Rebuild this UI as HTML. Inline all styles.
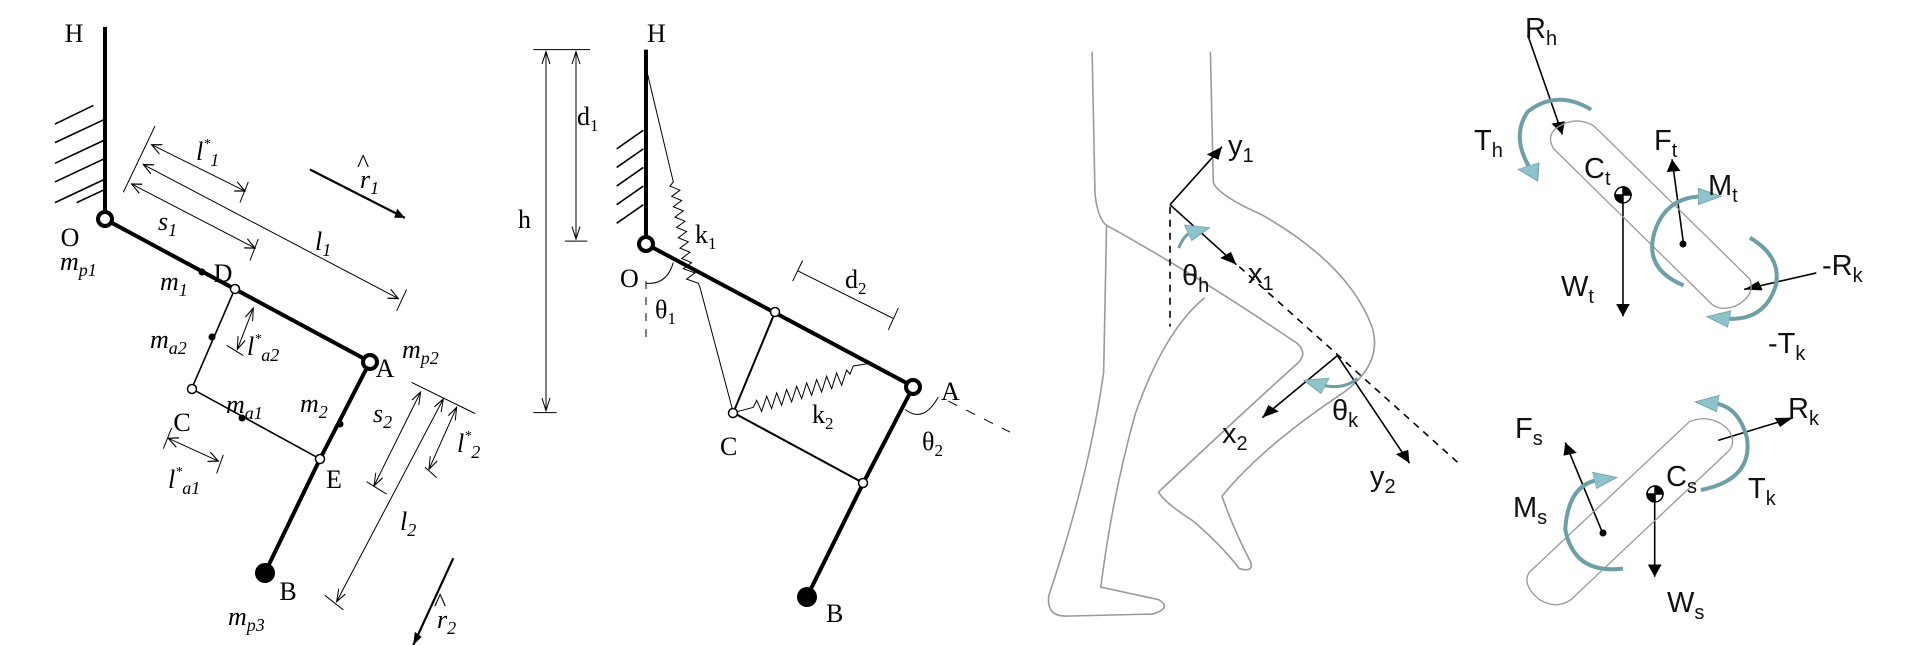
<!DOCTYPE html>
<html><head><meta charset="utf-8"><style>
html,body{margin:0;padding:0;background:#fff;}
svg{display:block}
.s{font-family:"Liberation Serif",serif;font-size:26px;fill:#000}
.i{font-style:italic}
.a{font-family:"Liberation Sans",sans-serif;font-size:29px;fill:#111}
</style></head><body>
<svg width="1920" height="645" viewBox="0 0 1920 645" xmlns="http://www.w3.org/2000/svg">
<defs>
<marker id="ar" markerUnits="userSpaceOnUse" markerWidth="40" markerHeight="40" refX="30" refY="15" orient="auto-start-reverse" viewBox="0 0 40 30"><path d="M0,3 L30,15 L0,27" fill="none" stroke="#000" stroke-width="3"/></marker>
<marker id="af" markerUnits="userSpaceOnUse" markerWidth="34" markerHeight="30" refX="30" refY="12" orient="auto" viewBox="0 0 34 24"><path d="M0,0 L30,12 L0,24 z" fill="#000"/></marker>
<marker id="ac" markerUnits="userSpaceOnUse" markerWidth="50" markerHeight="50" refX="10" refY="20" orient="auto" viewBox="0 0 50 40"><path d="M0,0 L40,20 L0,40 z" fill="#8fc3cb" stroke="#6fa0a8" stroke-width="2"/></marker>
</defs>

<!-- PANEL 1 -->
<g transform="scale(0.3333,0.4135)" fill="none" stroke="#000">
<line x1="315" y1="65" x2="315" y2="520" stroke-width="4" vector-effect="non-scaling-stroke"/>
<g stroke-width="1.6" vector-effect="non-scaling-stroke">
<line x1="165" y1="300" x2="280" y2="255" vector-effect="non-scaling-stroke"/>
<line x1="165" y1="345" x2="310" y2="290" vector-effect="non-scaling-stroke"/>
<line x1="165" y1="395" x2="310" y2="340" vector-effect="non-scaling-stroke"/>
<line x1="165" y1="440" x2="310" y2="385" vector-effect="non-scaling-stroke"/>
<line x1="165" y1="490" x2="310" y2="435" vector-effect="non-scaling-stroke"/>
<line x1="230" y1="490" x2="310" y2="460" vector-effect="non-scaling-stroke"/>
</g>
<polyline points="315,530 1110,875" stroke-width="4" vector-effect="non-scaling-stroke"/>
<polyline points="1110,875 960,1110 795,1385" stroke-width="4" vector-effect="non-scaling-stroke"/>
<polyline points="705,698 575,940 960,1110" stroke-width="1.6" vector-effect="non-scaling-stroke"/>
<g stroke-width="1" vector-effect="non-scaling-stroke">
<line x1="370" y1="465" x2="465" y2="305" vector-effect="non-scaling-stroke"/>
<line x1="455" y1="350" x2="735" y2="462" marker-start="url(#ar)" marker-end="url(#ar)" vector-effect="non-scaling-stroke"/>
<line x1="745" y1="440" x2="720" y2="490" vector-effect="non-scaling-stroke"/>
<line x1="430" y1="398" x2="1195" y2="722" marker-start="url(#ar)" marker-end="url(#ar)" vector-effect="non-scaling-stroke"/>
<line x1="1220" y1="700" x2="1190" y2="752" vector-effect="non-scaling-stroke"/>
<line x1="395" y1="445" x2="765" y2="600" marker-start="url(#ar)" marker-end="url(#ar)" vector-effect="non-scaling-stroke"/>
<line x1="775" y1="578" x2="750" y2="630" vector-effect="non-scaling-stroke"/>
<line x1="1235" y1="925" x2="1425" y2="1000" vector-effect="non-scaling-stroke"/>
<line x1="1262" y1="948" x2="1122" y2="1175" marker-start="url(#ar)" marker-end="url(#ar)" vector-effect="non-scaling-stroke"/>
<line x1="1100" y1="1165" x2="1160" y2="1195" vector-effect="non-scaling-stroke"/>
<line x1="1330" y1="965" x2="1010" y2="1455" marker-start="url(#ar)" marker-end="url(#ar)" vector-effect="non-scaling-stroke"/>
<line x1="975" y1="1440" x2="1030" y2="1475" vector-effect="non-scaling-stroke"/>
<line x1="1370" y1="985" x2="1287" y2="1135" marker-start="url(#ar)" marker-end="url(#ar)" vector-effect="non-scaling-stroke"/>
<line x1="1275" y1="1130" x2="1310" y2="1155" vector-effect="non-scaling-stroke"/>
<line x1="760" y1="745" x2="712" y2="845" marker-start="url(#ar)" marker-end="url(#ar)" vector-effect="non-scaling-stroke"/>
<line x1="680" y1="835" x2="730" y2="860" vector-effect="non-scaling-stroke"/>
<line x1="505" y1="1060" x2="655" y2="1115" marker-start="url(#ar)" marker-end="url(#ar)" vector-effect="non-scaling-stroke"/>
<line x1="490" y1="1085" x2="515" y2="1035" vector-effect="non-scaling-stroke"/>
<line x1="650" y1="1145" x2="670" y2="1100" vector-effect="non-scaling-stroke"/>
</g>
<line x1="930" y1="410" x2="1215" y2="527" stroke-width="2.2" marker-end="url(#af)" vector-effect="non-scaling-stroke"/>
<line x1="1360" y1="1350" x2="1240" y2="1560" stroke-width="2.2" marker-end="url(#af)" vector-effect="non-scaling-stroke"/>
</g>
<g fill="#fff" stroke="#000">
<circle cx="105" cy="219" r="7" stroke-width="4"/>
<circle cx="370" cy="362" r="7" stroke-width="4"/>
<circle cx="235" cy="289" r="4.5" stroke-width="1.5"/>
<circle cx="192" cy="389" r="4.5" stroke-width="1.5"/>
<circle cx="320" cy="459" r="4.5" stroke-width="1.5"/>
</g>
<g fill="#000"><circle cx="265" cy="573" r="10"/><circle cx="202" cy="272" r="3.5"/><circle cx="212" cy="337" r="3.5"/><circle cx="242" cy="418" r="3.5"/><circle cx="340" cy="424" r="3.5"/></g>
<g class="s" text-anchor="middle">
<text x="74" y="42">H</text>
<text x="70" y="246">O</text>
<text x="223" y="282">D</text>
<text x="385" y="377">A</text>
<text x="182" y="431">C</text>
<text x="334" y="488">E</text>
<text x="288" y="600">B</text>
</g>
<g class="s i">
<text x="60" y="270">m<tspan font-size="18" dy="6">p1</tspan></text>
<text x="160" y="290">m<tspan font-size="18" dy="6">1</tspan></text>
<text x="150" y="348">m<tspan font-size="18" dy="6">a2</tspan></text>
<text x="247" y="355">l<tspan font-size="14" dy="-12">*</tspan><tspan font-size="18" dy="18">a2</tspan></text>
<text x="402" y="358">m<tspan font-size="18" dy="6">p2</tspan></text>
<text x="226" y="413">m<tspan font-size="18" dy="6">a1</tspan></text>
<text x="300" y="412">m<tspan font-size="18" dy="6">2</tspan></text>
<text x="373" y="422">s<tspan font-size="18" dy="6">2</tspan></text>
<text x="168" y="488">l<tspan font-size="14" dy="-12">*</tspan><tspan font-size="18" dy="18">a1</tspan></text>
<text x="457" y="452">l<tspan font-size="14" dy="-12">*</tspan><tspan font-size="18" dy="18">2</tspan></text>
<text x="400" y="530">l<tspan font-size="18" dy="6">2</tspan></text>
<text x="228" y="625">m<tspan font-size="18" dy="6">p3</tspan></text>
<text x="196" y="160">l<tspan font-size="14" dy="-12">*</tspan><tspan font-size="18" dy="18">1</tspan></text>
<text x="158" y="230">s<tspan font-size="18" dy="6">1</tspan></text>
<text x="315" y="250">l<tspan font-size="18" dy="6">1</tspan></text>
<text x="360" y="188">r<tspan font-size="18" dy="6">1</tspan></text>
<text x="437" y="628">r<tspan font-size="18" dy="6">2</tspan></text>
</g>
<text x="357" y="172" class="s" font-size="20">^</text>
<text x="434" y="611" class="s" font-size="20">^</text>

<!-- PANEL 2 -->
<g transform="translate(500,0) scale(0.3333,0.4135)" fill="none" stroke="#000">
<line x1="438" y1="120" x2="438" y2="580" stroke-width="4" vector-effect="non-scaling-stroke"/>
<g stroke-width="1.6">
<line x1="350" y1="360" x2="430" y2="315" vector-effect="non-scaling-stroke"/>
<line x1="350" y1="405" x2="430" y2="360" vector-effect="non-scaling-stroke"/>
<line x1="350" y1="450" x2="430" y2="405" vector-effect="non-scaling-stroke"/>
<line x1="350" y1="495" x2="430" y2="450" vector-effect="non-scaling-stroke"/>
<line x1="350" y1="540" x2="430" y2="495" vector-effect="non-scaling-stroke"/>
</g>
<polyline points="438,590 1240,935" stroke-width="4" vector-effect="non-scaling-stroke"/>
<polyline points="1240,935 1090,1168 920,1445" stroke-width="4" vector-effect="non-scaling-stroke"/>
<polyline points="825,755 700,998 1090,1168" stroke-width="2" vector-effect="non-scaling-stroke"/>
<polyline points="440,170 520,440 510,450 540,460 515,475 545,485 520,500 550,510 525,525 555,535 530,550 560,560 535,575 565,585 540,600 570,610 545,625 575,635 550,650 585,660 560,675 595,685 600,695 700,998" stroke-width="1" vector-effect="non-scaling-stroke"/>
<polyline points="700,998 760,985 770,968 785,995 800,958 815,988 830,950 845,980 860,942 875,972 890,934 905,964 920,926 935,956 950,918 965,948 980,910 995,940 1010,902 1025,932 1040,895 1050,905 1060,885 1100,880" stroke-width="1" vector-effect="non-scaling-stroke"/>
<g stroke-width="1">
<line x1="100" y1="120" x2="270" y2="120" vector-effect="non-scaling-stroke"/>
<line x1="138" y1="125" x2="138" y2="993" marker-start="url(#ar)" marker-end="url(#ar)" vector-effect="non-scaling-stroke"/>
<line x1="100" y1="998" x2="170" y2="998" vector-effect="non-scaling-stroke"/>
<line x1="228" y1="125" x2="228" y2="578" marker-start="url(#ar)" marker-end="url(#ar)" vector-effect="non-scaling-stroke"/>
<line x1="195" y1="583" x2="262" y2="583" vector-effect="non-scaling-stroke"/>
<line x1="893" y1="655" x2="1180" y2="770" vector-effect="non-scaling-stroke"/>
<line x1="878" y1="680" x2="908" y2="630" vector-effect="non-scaling-stroke"/>
<line x1="1165" y1="798" x2="1195" y2="745" vector-effect="non-scaling-stroke"/>
<line x1="438" y1="680" x2="438" y2="830" stroke-dasharray="8 8" vector-effect="non-scaling-stroke"/>
<line x1="1345" y1="970" x2="1530" y2="1045" stroke-dasharray="10 10" vector-effect="non-scaling-stroke"/>
<path d="M438,685 Q500,690 520,635" vector-effect="non-scaling-stroke"/>
<path d="M1215,990 Q1270,1025 1315,960" vector-effect="non-scaling-stroke"/>
</g>
</g>
<g fill="#fff" stroke="#000">
<circle cx="646" cy="244" r="7" stroke-width="4"/>
<circle cx="913" cy="387" r="7" stroke-width="4"/>
<circle cx="775" cy="312" r="4.5" stroke-width="1.5"/>
<circle cx="733" cy="413" r="4.5" stroke-width="1.5"/>
<circle cx="863" cy="483" r="4.5" stroke-width="1.5"/>
</g>
<circle cx="807" cy="597" r="10" fill="#000"/>
<g class="s" font-size="24">
<text x="647" y="42">H</text>
<text x="518" y="228">h</text>
<text x="577" y="125">d<tspan font-size="17" dy="6">1</tspan></text>
<text x="695" y="243">k<tspan font-size="17" dy="6">1</tspan></text>
<text x="620" y="287">O</text>
<text x="655" y="318">θ<tspan font-size="17" dy="6">1</tspan></text>
<text x="845" y="288">d<tspan font-size="17" dy="6">2</tspan></text>
<text x="941" y="400">A</text>
<text x="922" y="450">θ<tspan font-size="17" dy="6">2</tspan></text>
<text x="812" y="423">k<tspan font-size="17" dy="6">2</tspan></text>
<text x="720" y="455">C</text>
<text x="826" y="622">B</text>
</g>

<!-- PANEL 3 -->
<g transform="translate(1020,0) scale(0.577,0.4135)" fill="none">
<g stroke="#9a9a9a" stroke-width="1.6">
<path d="M125,125 L130,470 Q135,530 150,545 L145,900 Q120,1150 50,1440 Q45,1490 80,1490 L230,1485 Q265,1470 240,1450 L140,1420 Q160,1200 200,1000 Q250,800 320,720" vector-effect="non-scaling-stroke"/>
<path d="M150,545 Q300,660 480,830 Q500,855 480,880 Q400,980 240,1190 Q250,1215 300,1260 Q350,1320 380,1375 Q405,1385 400,1360 Q370,1280 350,1200 Q420,1080 560,950 Q630,880 610,790 Q570,640 420,520 Q340,470 335,440 L330,125" vector-effect="non-scaling-stroke"/>
</g>
<g stroke="#000" stroke-width="1.6">
<line x1="260" y1="495" x2="350" y2="355" marker-end="url(#af)" vector-effect="non-scaling-stroke"/>
<line x1="260" y1="495" x2="375" y2="640" marker-end="url(#af)" vector-effect="non-scaling-stroke"/>
<line x1="260" y1="500" x2="260" y2="790" stroke-dasharray="7 6" vector-effect="non-scaling-stroke"/>
<line x1="380" y1="645" x2="760" y2="1120" stroke-dasharray="7 6" vector-effect="non-scaling-stroke"/>
<line x1="550" y1="860" x2="420" y2="1010" marker-end="url(#af)" vector-effect="non-scaling-stroke"/>
<line x1="550" y1="860" x2="675" y2="1120" marker-end="url(#af)" vector-effect="non-scaling-stroke"/>
<line x1="880" y1="85" x2="940" y2="325" marker-end="url(#af)" vector-effect="non-scaling-stroke"/>
<line x1="1045" y1="470" x2="1045" y2="765" marker-end="url(#af)" vector-effect="non-scaling-stroke"/>
<line x1="1150" y1="590" x2="1130" y2="385" marker-end="url(#af)" vector-effect="non-scaling-stroke"/>
<line x1="1380" y1="660" x2="1255" y2="700" marker-end="url(#af)" vector-effect="non-scaling-stroke"/>
<line x1="1210" y1="1065" x2="1340" y2="1010" marker-end="url(#af)" vector-effect="non-scaling-stroke"/>
<line x1="1010" y1="1290" x2="945" y2="1070" marker-end="url(#af)" vector-effect="non-scaling-stroke"/>
<line x1="1100" y1="1190" x2="1100" y2="1395" marker-end="url(#af)" vector-effect="non-scaling-stroke"/>
</g>
<g stroke="#999" stroke-width="1.3">
<path d="M935,305 Q965,280 995,305 L1265,675 Q1275,715 1240,740 Q1210,755 1195,730 L925,360 Q910,325 935,305 Z" vector-effect="non-scaling-stroke"/>
<path d="M1160,1020 Q1195,1000 1225,1035 Q1245,1070 1225,1095 L955,1450 Q930,1475 900,1450 Q870,1415 882,1385 Z" vector-effect="non-scaling-stroke"/>
</g>
<g stroke="#6f9fa6" stroke-width="4">
<path d="M990,265 Q930,215 880,270 Q850,330 885,410" marker-end="url(#ac)" vector-effect="non-scaling-stroke"/>
<path d="M1150,690 Q1080,650 1100,560 Q1120,475 1185,475" marker-end="url(#ac)" vector-effect="non-scaling-stroke"/>
<path d="M1265,575 Q1320,620 1310,690 Q1290,780 1220,770" marker-end="url(#ac)" vector-effect="non-scaling-stroke"/>
<path d="M1180,1185 Q1270,1160 1260,1060 Q1245,980 1200,975" marker-end="url(#ac)" vector-effect="non-scaling-stroke"/>
<path d="M1045,1375 Q960,1390 945,1280 Q950,1170 1005,1160" marker-end="url(#ac)" vector-effect="non-scaling-stroke"/>
<path d="M275,600 Q285,565 300,560" marker-end="url(#ac)" stroke-width="3" vector-effect="non-scaling-stroke"/>
<path d="M585,915 Q560,945 520,930" marker-end="url(#ac)" stroke-width="3" vector-effect="non-scaling-stroke"/>
</g>
</g>
<g stroke="#000" stroke-width="1.5">
<circle cx="1623" cy="195" r="8" fill="#fff"/><path d="M1623,187 A8,8 0 0 1 1631,195 L1623,195 Z M1623,203 A8,8 0 0 1 1615,195 L1623,195 Z" fill="#000"/>
<circle cx="1655" cy="494" r="8" fill="#fff"/><path d="M1655,486 A8,8 0 0 1 1663,494 L1655,494 Z M1655,502 A8,8 0 0 1 1647,494 L1655,494 Z" fill="#000"/>
</g>
<circle cx="1683" cy="244" r="3.5" fill="#000"/>
<circle cx="1603" cy="533" r="3.5" fill="#000"/>
<g class="a">
<text x="1228" y="155">y<tspan font-size="20" dy="7">1</tspan></text>
<text x="1248" y="283">x<tspan font-size="20" dy="7">1</tspan></text>
<text x="1182" y="285">θ<tspan font-size="20" dy="7">h</tspan></text>
<text x="1222" y="443">x<tspan font-size="20" dy="7">2</tspan></text>
<text x="1332" y="420">θ<tspan font-size="20" dy="7">k</tspan></text>
<text x="1370" y="486">y<tspan font-size="20" dy="7">2</tspan></text>
<text x="1525" y="38">R<tspan font-size="20" dy="7">h</tspan></text>
<text x="1474" y="150">T<tspan font-size="20" dy="7">h</tspan></text>
<text x="1584" y="178">C<tspan font-size="20" dy="7">t</tspan></text>
<text x="1654" y="150">F<tspan font-size="20" dy="7">t</tspan></text>
<text x="1708" y="195">M<tspan font-size="20" dy="7">t</tspan></text>
<text x="1822" y="275">-R<tspan font-size="20" dy="7">k</tspan></text>
<text x="1561" y="296">W<tspan font-size="20" dy="7">t</tspan></text>
<text x="1768" y="353">-T<tspan font-size="20" dy="7">k</tspan></text>
<text x="1515" y="438">F<tspan font-size="20" dy="7">s</tspan></text>
<text x="1788" y="418">R<tspan font-size="20" dy="7">k</tspan></text>
<text x="1666" y="486">C<tspan font-size="20" dy="7">s</tspan></text>
<text x="1748" y="498">T<tspan font-size="20" dy="7">k</tspan></text>
<text x="1513" y="517">M<tspan font-size="20" dy="7">s</tspan></text>
<text x="1667" y="612">W<tspan font-size="20" dy="7">s</tspan></text>
</g>
</svg>
</body></html>
